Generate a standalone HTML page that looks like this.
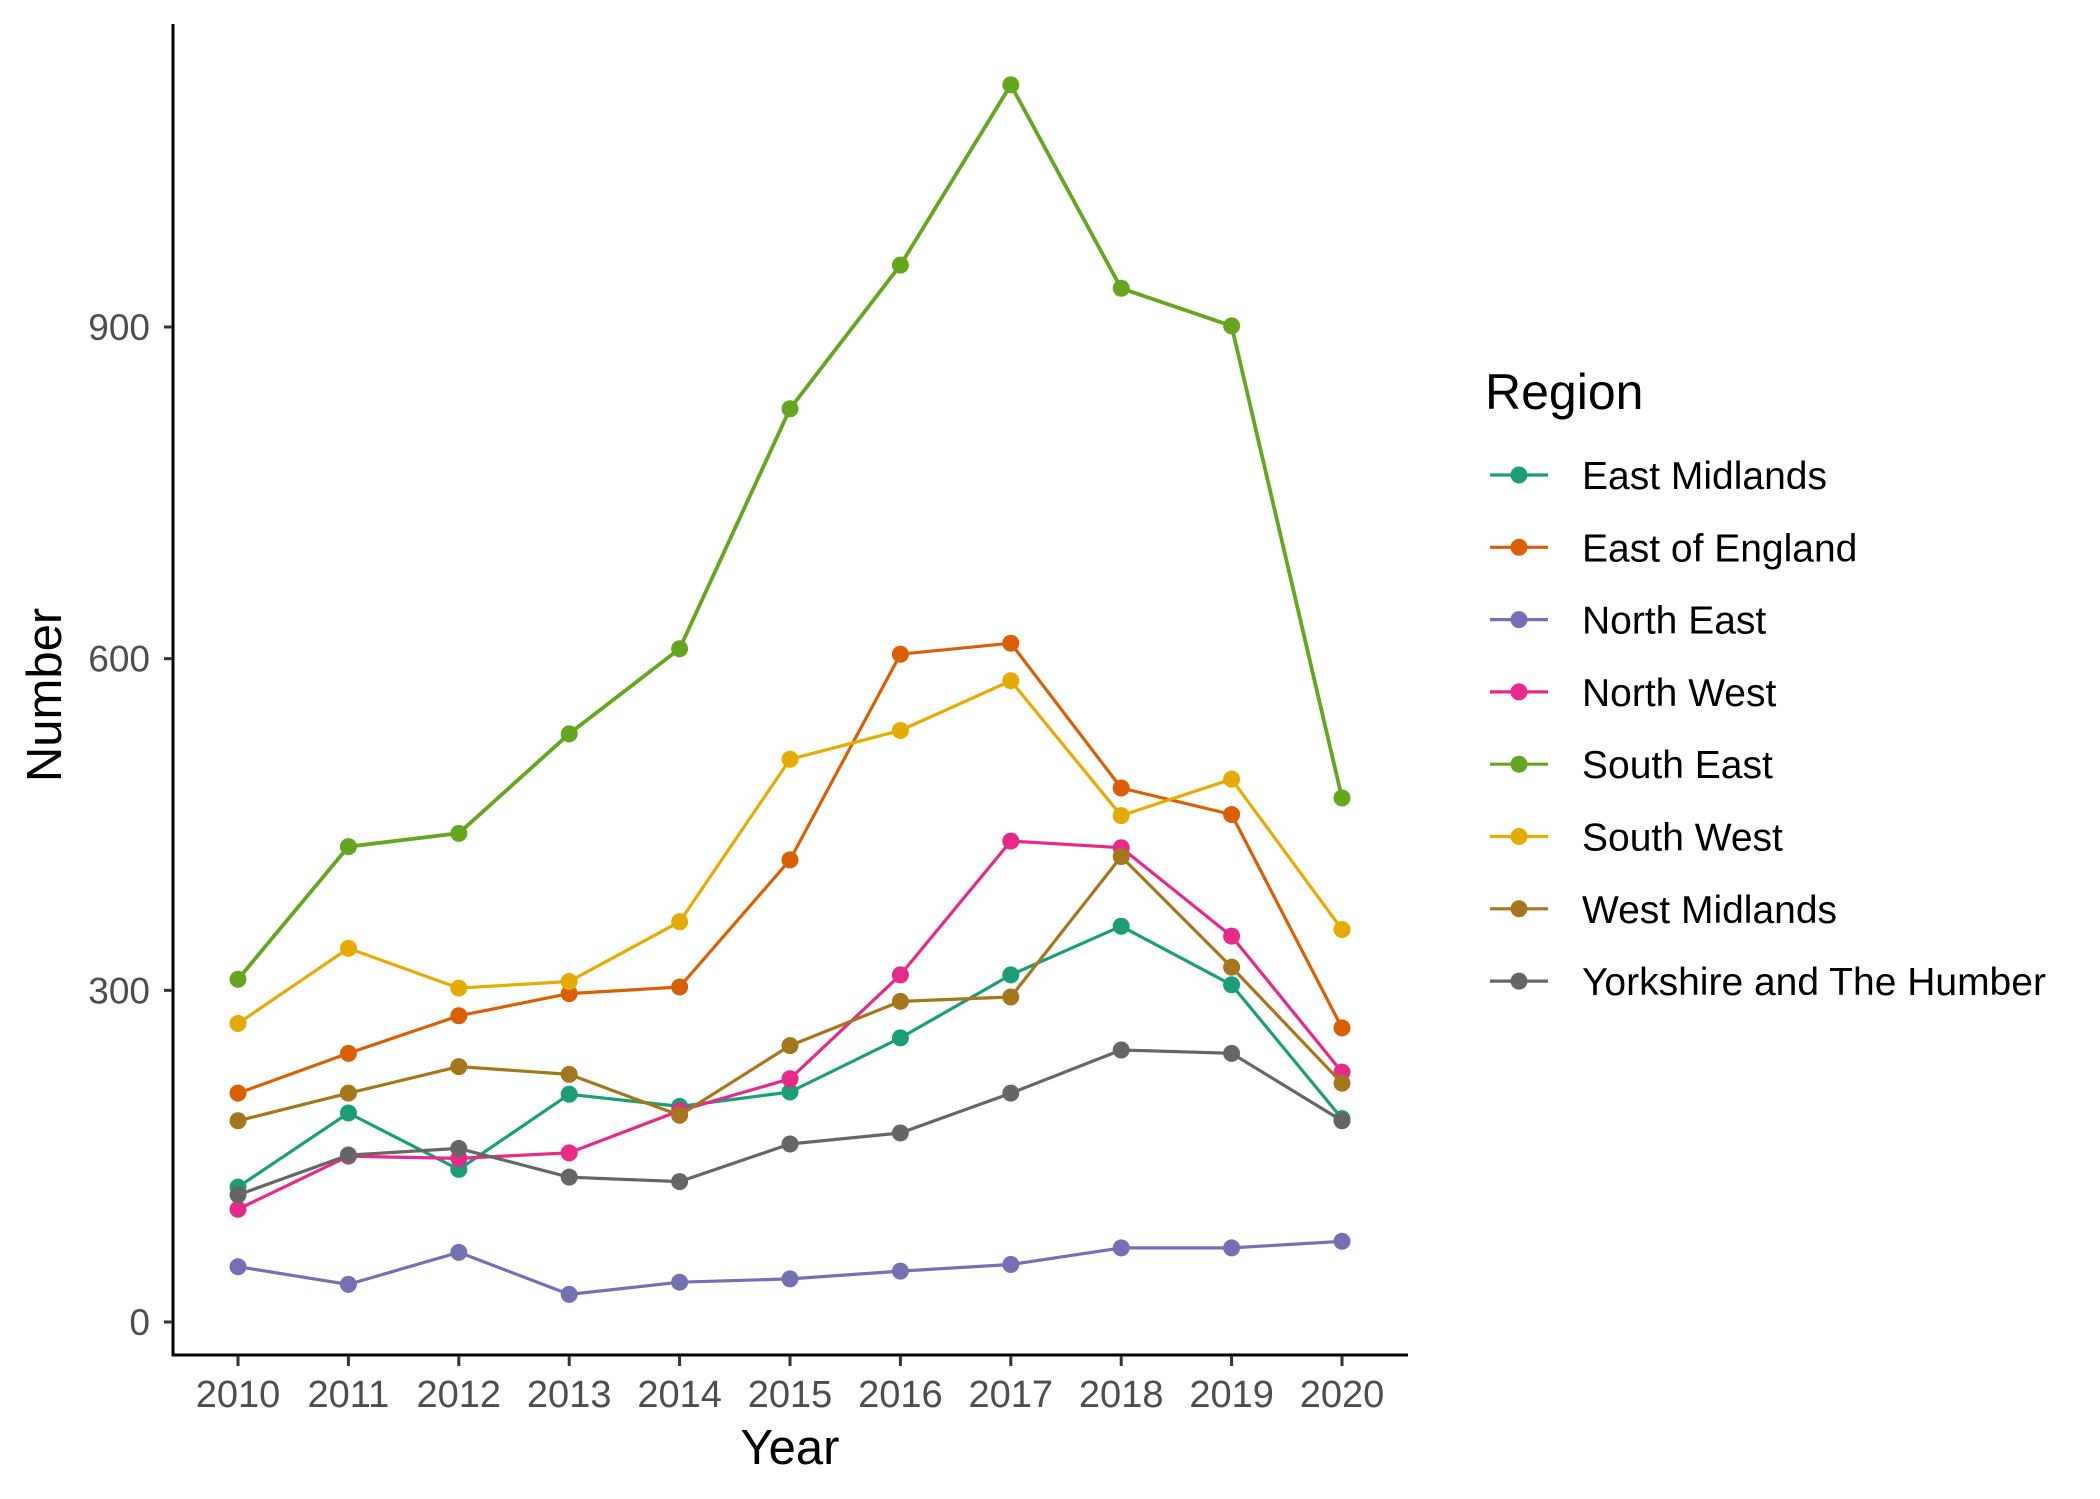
<!DOCTYPE html>
<html><head><meta charset="utf-8"><style>
body{margin:0;background:#fff}
svg{display:block;font-family:"Liberation Sans",Arial,sans-serif}
</style></head><body>
<svg id="chart" width="2100" height="1499" viewBox="0 0 2100 1499">
<g id="plot"></g>
<g id="axes"></g>
<g id="legend"></g>
</svg>
<script>
const years = [2010,2011,2012,2013,2014,2015,2016,2017,2018,2019,2020];
const regions = ["East Midlands","East of England","North East","North West","South East","South West","West Midlands","Yorkshire and The Humber"];
const colors = ["#1B9E77","#D95F02","#7570B3","#E7298A","#66A61E","#E6AB02","#A6761D","#666666"];
const eastMidlands = [122,189,138,206,195,208,257,314,358,305,184];
const eastOfEngland = [207,243,277,297,303,418,604,614,483,459,266];
const northEast = [50,34,63,25,36,39,46,52,67,67,73];
const northWest = [102,150,148,153,191,220,314,435,429,349,226];
const southEast = [310,430,442,532,609,826,956,1119,935,901,474];
const southWest = [270,338,302,308,362,509,535,580,458,491,355];
const westMidlands = [182,207,231,224,187,250,290,294,421,321,216];
const yorkshire = [115,151,157,131,127,161,171,207,246,243,182];
const yTicks = [0,300,600,900];
const seriesList = [eastMidlands,eastOfEngland,northEast,northWest,southEast,southWest,westMidlands,yorkshire];

const NS="http://www.w3.org/2000/svg";
function mk(tag,attrs,parent){const e=document.createElementNS(NS,tag);for(const k in attrs)e.setAttribute(k,attrs[k]);parent.appendChild(e);return e;}
const xScale = y => 238 + (y-2010)*110.4;
const yScale = v => 1322 - v*(995/900);
const plot=document.getElementById('plot'), axes=document.getElementById('axes'), legend=document.getElementById('legend');

seriesList.forEach((s,i)=>{
  const g=mk('g',{},plot);
  
  
  const pts=s.map((v,j)=>xScale(years[j]).toFixed(1)+','+yScale(v).toFixed(1)).join(' ');
  const pl=mk('polyline',{points:pts,fill:'none',stroke:colors[i],'stroke-width':i===4?3.8:3.2,'stroke-linejoin':'round'},g);
  
  
  s.forEach((v,j)=>{
    const c=mk('circle',{cx:xScale(years[j]),cy:yScale(v),r:8.5,fill:colors[i]},g);
    
    
  });
});

// axes
const yl=mk('line',{x1:173,y1:24,x2:173,y2:1356,stroke:'#000','stroke-width':3},axes);


const xl=mk('line',{x1:172,y1:1355,x2:1408,y2:1355,stroke:'#000','stroke-width':3},axes);


yTicks.forEach(v=>{
  const y=yScale(v);
  mk('line',{x1:164,y1:y,x2:172,y2:y,stroke:'#333','stroke-width':3},axes);
  const t=mk('text',{x:150,y:y+13,'text-anchor':'end','font-size':37,fill:'#4D4D4D'},axes);
  t.textContent=v;
  
  
});
years.forEach(yr=>{
  const x=xScale(yr);
  mk('line',{x1:x,y1:1356,x2:x,y2:1366,stroke:'#333','stroke-width':3},axes);
  const t=mk('text',{x:x,y:1407,'text-anchor':'middle','font-size':38,fill:'#4D4D4D'},axes);
  t.textContent=yr;
  
  
});
const xt=mk('text',{x:790,y:1464,'text-anchor':'middle','font-size':49,fill:'#000'},axes);
xt.textContent='Year';


const yt=mk('text',{x:0,y:0,'text-anchor':'middle','font-size':49,fill:'#000',transform:'translate(61,695) rotate(-90)'},axes);
yt.textContent='Number';



// legend
const lt=mk('text',{x:1485,y:409,'font-size':50,fill:'#000'},legend);
lt.textContent='Region';


regions.forEach((r,i)=>{
  const y=475+i*72.3;
  const g=mk('g',{},legend);
  
  
  mk('line',{x1:1490,y1:y,x2:1548,y2:y,stroke:colors[i],'stroke-width':3.2},g);
  mk('circle',{cx:1519,cy:y,r:8.5,fill:colors[i]},g);
  const t=mk('text',{x:1582,y:y+14,'font-size':39,fill:'#000'},g);
  t.textContent=r;
});
</script>
</body></html>
